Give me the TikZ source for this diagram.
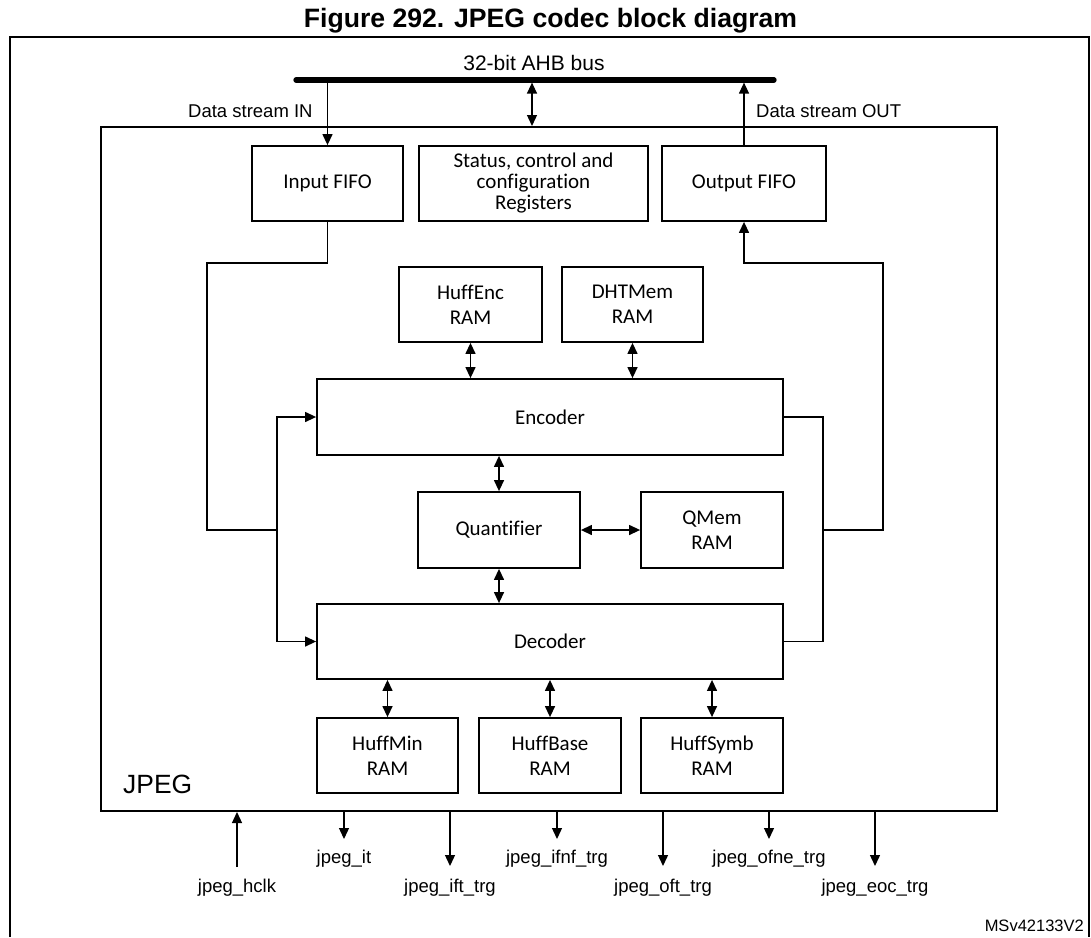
\documentclass[tikz,border=0pt]{standalone}
\usepackage{fontspec}
\setmainfont{Liberation Sans}
\newfontfamily\boxfont[Ligatures=CommonOff]{Carlito}
\usetikzlibrary{arrows.meta}
\begin{document}
\begin{tikzpicture}[x=1pt,y=-1pt,
  blk/.style={draw, line width=1.8pt, inner sep=0pt, align=center, minimum height=75pt,
              font=\boxfont\fontsize{21}{25}\selectfont},
  conn/.style={line width=1.3pt},
  arr/.style={conn, -{Triangle[length=11pt,width=10pt]}},
  biarr/.style={conn, {Triangle[length=11pt,width=10pt]}-{Triangle[length=11pt,width=10pt]}},
  lbl/.style={inner sep=0pt, font=\fontsize{18.5}{22}\selectfont},
  sig/.style={lbl, anchor=base},
]
\useasboundingbox (0,0) rectangle (1091,937);

% title
\node[anchor=base, inner sep=0pt, font=\bfseries\fontsize{26.6}{30}\selectfont] (title) at (550.5,27) {Figure 292. JPEG codec block diagram};

% outer frame
\draw[line width=1.8pt] (10,937) -- (10,37) -- (1089,37) -- (1089,937);

% JPEG block
\node[draw, line width=2pt, minimum width=896pt, minimum height=684pt, inner sep=0pt] (jpeg) at (549,469) {};
\node[anchor=base west, inner sep=0pt, font=\fontsize{26.4}{30}\selectfont] (jpeglbl) at (123,793) {JPEG};

% bus
\coordinate (busL) at (296,80);
\coordinate (busR) at (774,80);
\coordinate (busC) at (532,82.6);
\draw[line width=5.3pt, line cap=round] (busL) -- (busR);
\node[anchor=base, inner sep=0pt, font=\fontsize{21}{25}\selectfont] (buslbl) at (534,70) {32-bit AHB bus};
\node[lbl, anchor=base west] (dsin) at (188,117) {Data stream IN};
\node[lbl, anchor=base west] (dsout) at (756,117) {Data stream OUT};

% boxes
\node[blk, minimum width=151pt] (infifo) at (327.5,183.5) {Input FIFO};
\node[blk, minimum width=229pt, font=\boxfont\fontsize{21}{21}\selectfont] (status) at (533.5,183.5) {Status, control and\\configuration\\Registers};
\node[blk, minimum width=164pt] (outfifo) at (744,183.5) {Output FIFO};
\node[blk, minimum width=143pt] (huffenc) at (470.5,304.5) {HuffEnc\\RAM};
\node[blk, minimum width=141pt] (dhtmem) at (632.5,304.5) {DHTMem\\RAM};
\node[blk, minimum width=466pt, minimum height=76pt] (encoder) at (550,417) {Encoder};
\node[blk, minimum width=162pt, minimum height=76pt] (quant) at (499,530) {Quantifier};
\node[blk, minimum width=142pt, minimum height=76pt] (qmem) at (712,530) {QMem\\RAM};
\node[blk, minimum width=466pt] (decoder) at (550,641.5) {Decoder};
\node[blk, minimum width=141pt] (huffmin) at (387.5,755.5) {HuffMin\\RAM};
\node[blk, minimum width=142pt] (huffbase) at (550,755.5) {HuffBase\\RAM};
\node[blk, minimum width=142pt] (huffsymb) at (712,755.5) {HuffSymb\\RAM};

% bus connections
\draw[arr] (infifo.north |- busL) -- (infifo.north);
\draw[biarr] (busC) -- (busC |- jpeg.north);
\draw[arr] (outfifo.north) -- (outfifo.north |- busC);

% input path
\coordinate (inA) at (207,263);
\coordinate (inJ) at (277,530);
\draw[conn] (infifo.south) |- (inA) |- (inJ);
\draw[arr] (inJ) |- (encoder.west);
\draw[arr] (inJ) |- (decoder.west);

% output path
\coordinate (outK) at (823,530);
\coordinate (outB) at (883,263);
\draw[conn] (encoder.east) -| (outK) |- (decoder.east);
\draw[arr] (outK) -| (outB) -| (outfifo.south);

% memory links
\draw[biarr] (huffenc.south) -- (huffenc.south |- encoder.north);
\draw[biarr] (dhtmem.south) -- (dhtmem.south |- encoder.north);
\draw[biarr] (quant.north) -- (quant.north |- encoder.south);
\draw[biarr] (quant.south) -- (quant.south |- decoder.north);
\draw[biarr] (quant.east) -- (qmem.west);
\draw[biarr] (huffmin.north) -- (huffmin.north |- decoder.south);
\draw[biarr] (huffbase.north) -- (huffbase.north |- decoder.south);
\draw[biarr] (huffsymb.north) -- (huffsymb.north |- decoder.south);

% signals
\node[sig] (hclk) at (237,892) {jpeg\_hclk};
\node[sig] (it) at (344,863) {jpeg\_it};
\node[sig] (ift) at (450,892) {jpeg\_ift\_trg};
\node[sig] (ifnf) at (557,863) {jpeg\_ifnf\_trg};
\node[sig] (oft) at (663,892) {jpeg\_oft\_trg};
\node[sig] (ofne) at (769,863) {jpeg\_ofne\_trg};
\node[sig] (eoc) at (875,892) {jpeg\_eoc\_trg};

\coordinate (hclkS) at (237,867);
\coordinate (itE) at (344,839);
\coordinate (iftE) at (450,866);
\coordinate (ifnfE) at (557,839);
\coordinate (oftE) at (663,866);
\coordinate (ofneE) at (769,839);
\coordinate (eocE) at (875,866);
\draw[arr] (hclkS) -- (hclkS |- jpeg.south);
\draw[arr] (itE |- jpeg.south) -- (itE);
\draw[arr] (iftE |- jpeg.south) -- (iftE);
\draw[arr] (ifnfE |- jpeg.south) -- (ifnfE);
\draw[arr] (oftE |- jpeg.south) -- (oftE);
\draw[arr] (ofneE |- jpeg.south) -- (ofneE);
\draw[arr] (eocE |- jpeg.south) -- (eocE);

\node[anchor=base east, inner sep=0pt, font=\fontsize{16.5}{20}\selectfont] (ref) at (1084,931) {MSv42133V2};
\end{tikzpicture}
\end{document}
